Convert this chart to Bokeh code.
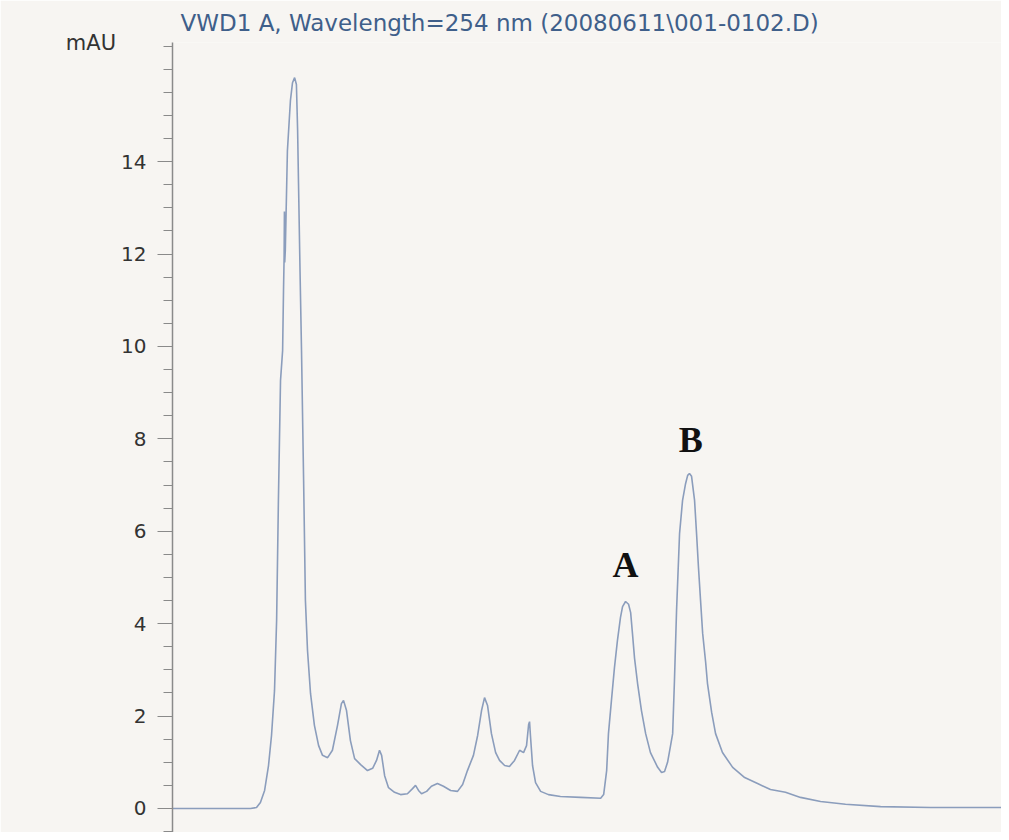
from bokeh.plotting import figure
from bokeh.models import Range1d, FixedTicker, Label
from bokeh.embed import file_html
from bokeh.resources import INLINE

# Retention time (min) and absorbance (mAU)
time_min = [0.00, 2.60, 2.80, 2.93, 3.07, 3.20, 3.30, 3.40, 3.47, 3.53, 3.60, 3.67, 3.70,
            3.72, 3.73, 3.74, 3.76, 3.83, 3.93, 4.00, 4.07, 4.13, 4.17, 4.20, 4.25, 4.30,
            4.37, 4.43, 4.50, 4.60, 4.73, 4.87, 5.00, 5.17, 5.33, 5.50, 5.63, 5.70, 5.80,
            5.93, 6.07, 6.27, 6.50, 6.67, 6.80, 6.90, 6.97, 7.07, 7.20, 7.40, 7.60, 7.83,
            8.00, 8.10, 8.20, 8.30, 8.47, 8.63, 8.83, 9.03, 9.27, 9.50, 9.67, 9.83, 10.03,
            10.17, 10.30, 10.40, 10.50, 10.63, 10.77, 10.90, 11.07, 11.23, 11.40, 11.57,
            11.70, 11.80, 11.87, 11.90, 11.93, 12.00, 12.10, 12.27, 12.53, 12.93, 13.60,
            14.27, 14.37, 14.47, 14.53, 14.63, 14.73, 14.83, 14.93, 15.00, 15.10, 15.20,
            15.27, 15.33, 15.40, 15.50, 15.63, 15.77, 15.93, 16.17, 16.30, 16.40, 16.50,
            16.60, 16.67, 16.73, 16.80, 16.90, 17.00, 17.10, 17.17, 17.23, 17.30, 17.40,
            17.47, 17.53, 17.60, 17.67, 17.77, 17.83, 17.97, 18.10, 18.33, 18.67, 19.07,
            19.50, 19.93, 20.43, 20.93, 21.60, 22.43, 23.60, 25.27, 27.77]
signal_mau = [0.00, 0.00, 0.02, 0.13, 0.39, 0.93, 1.58, 2.55, 4.07, 6.67, 9.26, 9.91, 11.21,
              11.93, 12.92, 11.82, 12.08, 14.24, 15.32, 15.71, 15.82, 15.67, 14.68, 13.53,
              11.65, 9.91, 7.10, 4.50, 3.42, 2.49, 1.80, 1.36, 1.15, 1.10, 1.26, 1.80, 2.27,
              2.34, 2.12, 1.47, 1.08, 0.95, 0.82, 0.87, 1.04, 1.26, 1.15, 0.71, 0.45, 0.35,
              0.30, 0.32, 0.43, 0.50, 0.39, 0.32, 0.37, 0.48, 0.54, 0.48, 0.39, 0.37, 0.52,
              0.82, 1.15, 1.58, 2.12, 2.40, 2.23, 1.62, 1.21, 1.04, 0.93, 0.91, 1.04, 1.26,
              1.21, 1.36, 1.82, 1.88, 1.58, 0.93, 0.56, 0.37, 0.30, 0.26, 0.24,
              0.22, 0.30, 0.82, 1.62, 2.34, 3.05, 3.64, 4.13, 4.37, 4.48, 4.42,
              4.24, 3.79, 3.25, 2.71, 2.12, 1.62, 1.21, 0.89, 0.78, 0.80, 1.00,
              1.36, 1.62, 2.77, 4.29, 5.95, 6.67, 7.03, 7.21, 7.25, 7.19, 6.67,
              5.91, 5.22, 4.50, 3.79, 3.16, 2.71, 2.08, 1.62, 1.21, 0.89, 0.67,
              0.54, 0.41, 0.35, 0.24, 0.15, 0.09, 0.04, 0.02, 0.02]

y_ticks = [0, 2, 4, 6, 8, 10, 12, 14]
y_minor = [-0.5 + 0.5 * i for i in range(35)]

peak_names = ["A", "B"]
peak_label_t = [15.10, 17.27]
peak_label_v = [5.26, 7.97]

title_text = "VWD1 A, Wavelength=254 nm (20080611\\001-0102.D)"
y_unit = "mAU"

BG = "#f7f5f2"

p = figure(width=1001, height=832, output_backend="svg", toolbar_location=None,
           x_range=Range1d(0, 27.63), y_range=Range1d(-0.52, 16.58),
           min_border_left=172, min_border_top=42, min_border_right=0, min_border_bottom=0)
p.background_fill_color = BG
p.border_fill_color = BG
p.outline_line_color = None
p.xgrid.visible = False
p.ygrid.visible = False
p.xaxis.visible = False

p.title.text = title_text
p.title.align = "left"
p.title.offset = 8
p.title.standoff = 13
p.title.text_font = "DejaVu Sans"
p.title.text_font_size = "23px"
p.title.text_font_style = "normal"
p.title.text_color = "#3f5f8a"

ax = p.yaxis[0]
ax.ticker = FixedTicker(ticks=y_ticks, minor_ticks=y_minor)
ax.axis_line_color = "#8a8a8a"
ax.axis_line_width = 1.5
ax.major_tick_line_color = "#8a8a8a"
ax.minor_tick_line_color = "#8a8a8a"
ax.major_tick_out = 15
ax.major_tick_in = 0
ax.minor_tick_out = 9
ax.minor_tick_in = 0
ax.major_label_standoff = 11
ax.major_label_text_font = "DejaVu Sans"
ax.major_label_text_font_size = "20px"
ax.major_label_text_color = "#333333"
ax.axis_label = y_unit
ax.axis_label_orientation = "horizontal"
ax.axis_label_align = "end"
ax.axis_label_standoff = 2
ax.axis_label_text_font = "DejaVu Sans"
ax.axis_label_text_font_size = "21px"
ax.axis_label_text_font_style = "normal"
ax.axis_label_text_color = "#333333"

p.line(time_min, signal_mau, line_color="#8b9dbc", line_width=1.6)

for name, t, v in zip(peak_names, peak_label_t, peak_label_v):
    p.add_layout(Label(x=t, y=v, text=name, text_font="Liberation Serif",
                       text_font_style="bold", text_font_size="36px",
                       text_color="#111111", text_align="center",
                       text_baseline="middle"))

open("out.html", "w").write(file_html(p, INLINE))
